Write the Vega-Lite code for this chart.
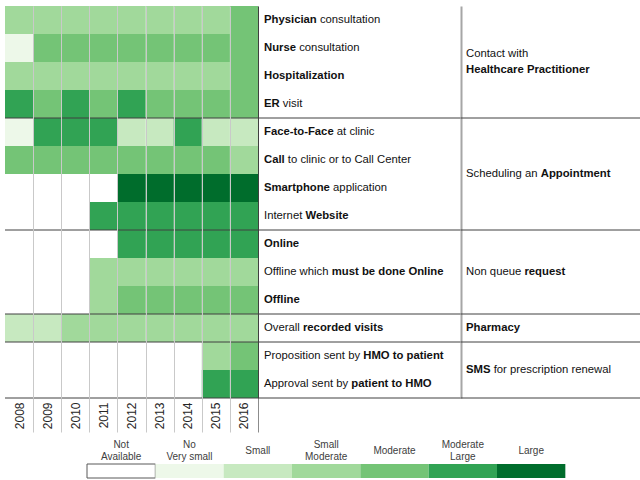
{
  "$schema": "https://vega.github.io/schema/vega-lite/v6.json",
  "padding": {"left": -1, "top": 6, "right": 0, "bottom": 0},
  "background": "white",
  "config": {"view": {"stroke": null}, "font": "Liberation Sans"},
  "datasets": {
    "cells": [
      {"r":1,"year":2008,"level":3},{"r":1,"year":2009,"level":3},{"r":1,"year":2010,"level":3},{"r":1,"year":2011,"level":3},{"r":1,"year":2012,"level":3},{"r":1,"year":2013,"level":3},{"r":1,"year":2014,"level":3},{"r":1,"year":2015,"level":3},{"r":1,"year":2016,"level":4},
      {"r":2,"year":2008,"level":1},{"r":2,"year":2009,"level":4},{"r":2,"year":2010,"level":4},{"r":2,"year":2011,"level":4},{"r":2,"year":2012,"level":4},{"r":2,"year":2013,"level":4},{"r":2,"year":2014,"level":4},{"r":2,"year":2015,"level":4},{"r":2,"year":2016,"level":4},
      {"r":3,"year":2008,"level":3},{"r":3,"year":2009,"level":3},{"r":3,"year":2010,"level":3},{"r":3,"year":2011,"level":3},{"r":3,"year":2012,"level":3},{"r":3,"year":2013,"level":3},{"r":3,"year":2014,"level":3},{"r":3,"year":2015,"level":3},{"r":3,"year":2016,"level":4},
      {"r":4,"year":2008,"level":5},{"r":4,"year":2009,"level":4},{"r":4,"year":2010,"level":5},{"r":4,"year":2011,"level":4},{"r":4,"year":2012,"level":5},{"r":4,"year":2013,"level":4},{"r":4,"year":2014,"level":4},{"r":4,"year":2015,"level":4},{"r":4,"year":2016,"level":4},
      {"r":5,"year":2008,"level":1},{"r":5,"year":2009,"level":5},{"r":5,"year":2010,"level":5},{"r":5,"year":2011,"level":5},{"r":5,"year":2012,"level":2},{"r":5,"year":2013,"level":2},{"r":5,"year":2014,"level":5},{"r":5,"year":2015,"level":2},{"r":5,"year":2016,"level":2},
      {"r":6,"year":2008,"level":4},{"r":6,"year":2009,"level":4},{"r":6,"year":2010,"level":4},{"r":6,"year":2011,"level":4},{"r":6,"year":2012,"level":4},{"r":6,"year":2013,"level":4},{"r":6,"year":2014,"level":4},{"r":6,"year":2015,"level":4},{"r":6,"year":2016,"level":3},
      {"r":7,"year":2008,"level":0},{"r":7,"year":2009,"level":0},{"r":7,"year":2010,"level":0},{"r":7,"year":2011,"level":0},{"r":7,"year":2012,"level":6},{"r":7,"year":2013,"level":6},{"r":7,"year":2014,"level":6},{"r":7,"year":2015,"level":6},{"r":7,"year":2016,"level":6},
      {"r":8,"year":2008,"level":0},{"r":8,"year":2009,"level":0},{"r":8,"year":2010,"level":0},{"r":8,"year":2011,"level":5},{"r":8,"year":2012,"level":5},{"r":8,"year":2013,"level":5},{"r":8,"year":2014,"level":5},{"r":8,"year":2015,"level":5},{"r":8,"year":2016,"level":5},
      {"r":9,"year":2008,"level":0},{"r":9,"year":2009,"level":0},{"r":9,"year":2010,"level":0},{"r":9,"year":2011,"level":0},{"r":9,"year":2012,"level":5},{"r":9,"year":2013,"level":5},{"r":9,"year":2014,"level":5},{"r":9,"year":2015,"level":5},{"r":9,"year":2016,"level":5},
      {"r":10,"year":2008,"level":0},{"r":10,"year":2009,"level":0},{"r":10,"year":2010,"level":0},{"r":10,"year":2011,"level":3},{"r":10,"year":2012,"level":3},{"r":10,"year":2013,"level":3},{"r":10,"year":2014,"level":3},{"r":10,"year":2015,"level":3},{"r":10,"year":2016,"level":3},
      {"r":11,"year":2008,"level":0},{"r":11,"year":2009,"level":0},{"r":11,"year":2010,"level":0},{"r":11,"year":2011,"level":3},{"r":11,"year":2012,"level":4},{"r":11,"year":2013,"level":4},{"r":11,"year":2014,"level":4},{"r":11,"year":2015,"level":4},{"r":11,"year":2016,"level":4},
      {"r":12,"year":2008,"level":2},{"r":12,"year":2009,"level":2},{"r":12,"year":2010,"level":3},{"r":12,"year":2011,"level":3},{"r":12,"year":2012,"level":3},{"r":12,"year":2013,"level":3},{"r":12,"year":2014,"level":3},{"r":12,"year":2015,"level":3},{"r":12,"year":2016,"level":3},
      {"r":13,"year":2008,"level":0},{"r":13,"year":2009,"level":0},{"r":13,"year":2010,"level":0},{"r":13,"year":2011,"level":0},{"r":13,"year":2012,"level":0},{"r":13,"year":2013,"level":0},{"r":13,"year":2014,"level":0},{"r":13,"year":2015,"level":3},{"r":13,"year":2016,"level":4},
      {"r":14,"year":2008,"level":0},{"r":14,"year":2009,"level":0},{"r":14,"year":2010,"level":0},{"r":14,"year":2011,"level":0},{"r":14,"year":2012,"level":0},{"r":14,"year":2013,"level":0},{"r":14,"year":2014,"level":0},{"r":14,"year":2015,"level":5},{"r":14,"year":2016,"level":5}
    ],
    "items": [
      {"r":1,"group":"Contact","pre":"","bold":"Physician","post":"consultation"},
      {"r":2,"group":"Contact","pre":"","bold":"Nurse","post":"consultation"},
      {"r":3,"group":"Contact","pre":"","bold":"Hospitalization","post":""},
      {"r":4,"group":"Contact","pre":"","bold":"ER","post":"visit"},
      {"r":5,"group":"Appointment","pre":"","bold":"Face-to-Face","post":"at clinic"},
      {"r":6,"group":"Appointment","pre":"","bold":"Call","post":"to clinic or to Call Center"},
      {"r":7,"group":"Appointment","pre":"","bold":"Smartphone","post":"application"},
      {"r":8,"group":"Appointment","pre":"Internet","bold":"Website","post":""},
      {"r":9,"group":"Request","pre":"","bold":"Online","post":""},
      {"r":10,"group":"Request","pre":"Offline which","bold":"must be done Online","post":""},
      {"r":11,"group":"Request","pre":"","bold":"Offline","post":""},
      {"r":12,"group":"Pharmacy","pre":"Overall","bold":"recorded visits","post":""},
      {"r":13,"group":"SMS","pre":"Proposition sent by","bold":"HMO to patient","post":""},
      {"r":14,"group":"SMS","pre":"Approval sent by","bold":"patient to HMO","post":""}
    ],
    "groups": [
      {"group":"Contact","l1":"Contact with","l2":"Healthcare Practitioner","pre":"","bold":"","post":""},
      {"group":"Appointment","l1":"","l2":"","pre":"Scheduling an","bold":"Appointment","post":""},
      {"group":"Request","l1":"","l2":"","pre":"Non queue","bold":"request","post":""},
      {"group":"Pharmacy","l1":"","l2":"","pre":"","bold":"Pharmacy","post":""},
      {"group":"SMS","l1":"","l2":"","pre":"","bold":"SMS","post":"for prescription renewal"}
    ],
    "levels": [
      {"level":0,"name":"Not Available"},
      {"level":1,"name":"No / Very small"},
      {"level":2,"name":"Small"},
      {"level":3,"name":"Small / Moderate"},
      {"level":4,"name":"Moderate"},
      {"level":5,"name":"Moderate / Large"},
      {"level":6,"name":"Large"}
    ]
  },
  "spacing": 6,
  "vconcat": [
    {
      "spacing": 0,
      "bounds": "flush",
      "hconcat": [
        {
          "width": 253,
          "height": 392,
          "layer": [
            {
              "data": {"name": "cells"},
              "mark": {"type": "rect"},
              "encoding": {
                "x": {"field": "year", "type": "ordinal", "scale": {"type": "band", "paddingInner": 0, "paddingOuter": 0},
                  "axis": {"orient": "bottom", "title": null, "domain": false, "tickBand": "extent", "grid": true, "gridColor": "#c9c9c9", "gridWidth": 1,
                    "gridOpacity": {"condition": {"test": "datum.extra != null", "value": 0}, "value": 1},
                    "ticks": true, "tickSize": 34,
                    "tickColor": {"condition": {"test": "datum.value == 2016", "value": "#8c8c8c"}, "value": "#c9c9c9"},
                    "tickOpacity": {"condition": {"test": "datum.extra != null", "value": 0}, "value": 1},
                    "labelAngle": 270, "labelAlign": "right", "labelBaseline": "middle", "labelPadding": -30, "labelFontSize": 12, "labelColor": "#262626", "zindex": 1}},
                "y": {"field": "r", "type": "ordinal", "scale": {"type": "band", "paddingInner": 0, "paddingOuter": 0}, "axis": null},
                "color": {"field": "level", "type": "ordinal", "scale": {"domain": [0,1,2,3,4,5,6], "range": ["#ffffff","#edf8e9","#c7e9c0","#a1d99b","#74c476","#31a354","#006d2c"]}, "legend": null}
              }
            },
            {
              "data": {"name": "items"},
              "transform": [
                {"joinaggregate": [{"op": "max", "field": "r", "as": "rmax"}], "groupby": ["group"]},
                {"filter": "datum.r == datum.rmax"}
              ],
              "mark": {"type": "rule", "color": "#404040", "strokeWidth": 1},
              "encoding": {"y": {"field": "r", "type": "ordinal", "bandPosition": 1, "axis": null}}
            }
          ]
        },
        {
          "width": 203,
          "height": 392,
          "data": {"name": "items"},
          "transform": [
            {"calculate": "datum.pre == '' ? 0 : (556*length(datum.pre)-334*(length(datum.pre)-length(replace(datum.pre,regexp('[ijl]','g'),'')))-278*(length(datum.pre)-length(replace(datum.pre,regexp('[ftI ]','g'),'')))-223*(length(datum.pre)-length(replace(datum.pre,regexp('[r-]','g'),'')))-56*(length(datum.pre)-length(replace(datum.pre,regexp('[cksvxyzJ]','g'),'')))+277*(length(datum.pre)-length(replace(datum.pre,regexp('[mM]','g'),'')))+166*(length(datum.pre)-length(replace(datum.pre,regexp('[wCDHNRU]','g'),'')))+388*(length(datum.pre)-length(replace(datum.pre,regexp('W','g'),'')))+111*(length(datum.pre)-length(replace(datum.pre,regexp('[ABEKPSVXY]','g'),'')))+222*(length(datum.pre)-length(replace(datum.pre,regexp('[GOQ]','g'),'')))+55*(length(datum.pre)-length(replace(datum.pre,regexp('[FTZ]','g'),'')))+278)*0.0113", "as": "xb"},
            {"calculate": "datum.xb + (datum.post == '' ? 0 : (611*length(datum.bold)-333*(length(datum.bold)-length(replace(datum.bold,regexp('[ijlI ]','g'),'')))-278*(length(datum.bold)-length(replace(datum.bold,regexp('[ft-]','g'),'')))-222*(length(datum.bold)-length(replace(datum.bold,regexp('r','g'),'')))-55*(length(datum.bold)-length(replace(datum.bold,regexp('[acekvsxy]','g'),'')))-111*(length(datum.bold)-length(replace(datum.bold,regexp('z','g'),'')))+278*(length(datum.bold)-length(replace(datum.bold,regexp('m','g'),'')))+222*(length(datum.bold)-length(replace(datum.bold,regexp('M','g'),'')))+167*(length(datum.bold)-length(replace(datum.bold,regexp('[wGOQ]','g'),'')))+333*(length(datum.bold)-length(replace(datum.bold,regexp('W','g'),'')))+111*(length(datum.bold)-length(replace(datum.bold,regexp('[ABCDHKNRU]','g'),'')))+56*(length(datum.bold)-length(replace(datum.bold,regexp('[EPSVXY]','g'),'')))+278)*0.0113)", "as": "xp"}
          ],
          "layer": [
            {
              "mark": {"type": "text", "align": "left", "baseline": "middle", "dx": 6, "fontSize": 11.3, "fill": "#111111"},
              "encoding": {
                "x": {"datum": 0, "type": "quantitative", "scale": {"domain": [0, 203], "nice": false, "zero": false}, "axis": null},
                "y": {"field": "r", "type": "ordinal", "scale": {"type": "band", "paddingInner": 0, "paddingOuter": 0},
                  "axis": {"orient": "left", "title": null, "labels": false, "ticks": false, "grid": false, "domain": true, "domainColor": "#404040", "domainWidth": 1, "minExtent": 0, "maxExtent": 0}},
                "text": {"field": "pre"}
              }
            },
            {
              "mark": {"type": "text", "align": "left", "baseline": "middle", "dx": 6, "fontSize": 11.3, "fontWeight": "bold", "fill": "#111111"},
              "encoding": {
                "x": {"field": "xb", "type": "quantitative"},
                "y": {"field": "r", "type": "ordinal"},
                "text": {"field": "bold"}
              }
            },
            {
              "mark": {"type": "text", "align": "left", "baseline": "middle", "dx": 6, "fontSize": 11.3, "fill": "#111111"},
              "encoding": {
                "x": {"field": "xp", "type": "quantitative"},
                "y": {"field": "r", "type": "ordinal"},
                "text": {"field": "post"}
              }
            },
            {
              "transform": [
                {"joinaggregate": [{"op": "max", "field": "r", "as": "rmax"}], "groupby": ["group"]},
                {"filter": "datum.r == datum.rmax"}
              ],
              "mark": {"type": "rule", "color": "#404040", "strokeWidth": 1},
              "encoding": {"y": {"field": "r", "type": "ordinal", "bandPosition": 1}}
            }
          ]
        },
        {
          "width": 179,
          "height": 392,
          "resolve": {"scale": {"y": "independent"}},
          "layer": [
            {
              "data": {"name": "items"},
              "transform": [
                {"joinaggregate": [{"op": "max", "field": "r", "as": "rmax"}], "groupby": ["group"]},
                {"filter": "datum.r == datum.rmax"}
              ],
              "mark": {"type": "rule", "color": "#404040", "strokeWidth": 1},
              "encoding": {"y": {"field": "r", "type": "ordinal", "bandPosition": 1, "scale": {"type": "band", "domain": [1,2,3,4,5,6,7,8,9,10,11,12,13,14], "paddingInner": 0, "paddingOuter": 0}, "axis": null}}
            },
            {
              "data": {"name": "items"},
              "transform": [
                {"aggregate": [{"op": "mean", "field": "r", "as": "ym"}], "groupby": ["group"]},
                {"lookup": "group", "from": {"data": {"name": "groups"}, "key": "group", "fields": ["l1", "l2", "pre", "bold", "post"]}},
                {"calculate": "datum.pre == '' ? 0 : (556*length(datum.pre)-334*(length(datum.pre)-length(replace(datum.pre,regexp('[ijl]','g'),'')))-278*(length(datum.pre)-length(replace(datum.pre,regexp('[ftI ]','g'),'')))-223*(length(datum.pre)-length(replace(datum.pre,regexp('[r-]','g'),'')))-56*(length(datum.pre)-length(replace(datum.pre,regexp('[cksvxyzJ]','g'),'')))+277*(length(datum.pre)-length(replace(datum.pre,regexp('[mM]','g'),'')))+166*(length(datum.pre)-length(replace(datum.pre,regexp('[wCDHNRU]','g'),'')))+388*(length(datum.pre)-length(replace(datum.pre,regexp('W','g'),'')))+111*(length(datum.pre)-length(replace(datum.pre,regexp('[ABEKPSVXY]','g'),'')))+222*(length(datum.pre)-length(replace(datum.pre,regexp('[GOQ]','g'),'')))+55*(length(datum.pre)-length(replace(datum.pre,regexp('[FTZ]','g'),'')))+278)*0.0113", "as": "xb"},
                {"calculate": "datum.xb + (datum.post == '' ? 0 : (611*length(datum.bold)-333*(length(datum.bold)-length(replace(datum.bold,regexp('[ijlI ]','g'),'')))-278*(length(datum.bold)-length(replace(datum.bold,regexp('[ft-]','g'),'')))-222*(length(datum.bold)-length(replace(datum.bold,regexp('r','g'),'')))-55*(length(datum.bold)-length(replace(datum.bold,regexp('[acekvsxy]','g'),'')))-111*(length(datum.bold)-length(replace(datum.bold,regexp('z','g'),'')))+278*(length(datum.bold)-length(replace(datum.bold,regexp('m','g'),'')))+222*(length(datum.bold)-length(replace(datum.bold,regexp('M','g'),'')))+167*(length(datum.bold)-length(replace(datum.bold,regexp('[wGOQ]','g'),'')))+333*(length(datum.bold)-length(replace(datum.bold,regexp('W','g'),'')))+111*(length(datum.bold)-length(replace(datum.bold,regexp('[ABCDHKNRU]','g'),'')))+56*(length(datum.bold)-length(replace(datum.bold,regexp('[EPSVXY]','g'),'')))+278)*0.0113)", "as": "xp"}
              ],
              "layer": [
                {
                  "mark": {"type": "text", "align": "left", "baseline": "middle", "dx": 5, "fontSize": 11.3, "fill": "#111111"},
                  "encoding": {
                    "x": {"datum": 0, "type": "quantitative", "scale": {"domain": [0, 179], "nice": false, "zero": false}, "axis": null},
                    "y": {"field": "ym", "type": "quantitative", "scale": {"domain": [0.5, 14.5], "reverse": true, "nice": false, "zero": false},
                      "axis": {"orient": "left", "title": null, "labels": false, "ticks": false, "grid": false, "domain": true, "domainColor": "#a6a6a6", "domainWidth": 2, "minExtent": 0, "maxExtent": 0}},
                    "text": {"field": "pre"}
                  }
                },
                {
                  "mark": {"type": "text", "align": "left", "baseline": "middle", "dx": 5, "fontSize": 11.3, "fontWeight": "bold", "fill": "#111111"},
                  "encoding": {"x": {"field": "xb", "type": "quantitative"}, "y": {"field": "ym", "type": "quantitative"}, "text": {"field": "bold"}}
                },
                {
                  "mark": {"type": "text", "align": "left", "baseline": "middle", "dx": 5, "fontSize": 11.3, "fill": "#111111"},
                  "encoding": {"x": {"field": "xp", "type": "quantitative"}, "y": {"field": "ym", "type": "quantitative"}, "text": {"field": "post"}}
                },
                {
                  "mark": {"type": "text", "align": "left", "baseline": "middle", "dx": 5, "dy": -8, "fontSize": 11.3, "fill": "#111111"},
                  "encoding": {"x": {"datum": 0, "type": "quantitative"}, "y": {"field": "ym", "type": "quantitative"}, "text": {"field": "l1"}}
                },
                {
                  "mark": {"type": "text", "align": "left", "baseline": "middle", "dx": 5, "dy": 8, "fontSize": 11.3, "fontWeight": "bold", "fill": "#111111"},
                  "encoding": {"x": {"datum": 0, "type": "quantitative"}, "y": {"field": "ym", "type": "quantitative"}, "text": {"field": "l2"}}
                }
              ]
            }
          ]
        }
      ]
    },
    {
      "width": 615,
      "height": 14,
      "data": {"name": "levels"},
      "mark": {"type": "rect", "strokeWidth": 1},
      "encoding": {
        "x": {"field": "name", "type": "ordinal",
          "sort": ["Not Available", "No / Very small", "Small", "Small / Moderate", "Moderate", "Moderate / Large", "Large"],
          "scale": {"type": "band", "paddingInner": 0, "paddingOuter": 1, "align": 0.6},
          "axis": {"orient": "top", "title": null, "domain": false, "ticks": false, "grid": false, "labelAngle": 0, "labelAlign": "center", "labelBaseline": "middle",
            "labelPadding": {"condition": {"test": "indexof(datum.value, ' ') < 0", "value": 14}, "value": 20},
            "labelFontSize": 10, "labelLineHeight": 12, "labelColor": "#404040", "labelLimit": 0,
            "labelExpr": "datum.value == 'Not Available' ? ['Not', 'Available'] : split(datum.value, ' / ')"}},
        "color": {"field": "level", "type": "ordinal", "scale": {"domain": [0,1,2,3,4,5,6], "range": ["#ffffff","#edf8e9","#c7e9c0","#a1d99b","#74c476","#31a354","#006d2c"]}, "legend": null},
        "stroke": {"condition": {"test": "datum.level == 0", "value": "#595959"}, "value": "transparent"}
      }
    }
  ]
}
